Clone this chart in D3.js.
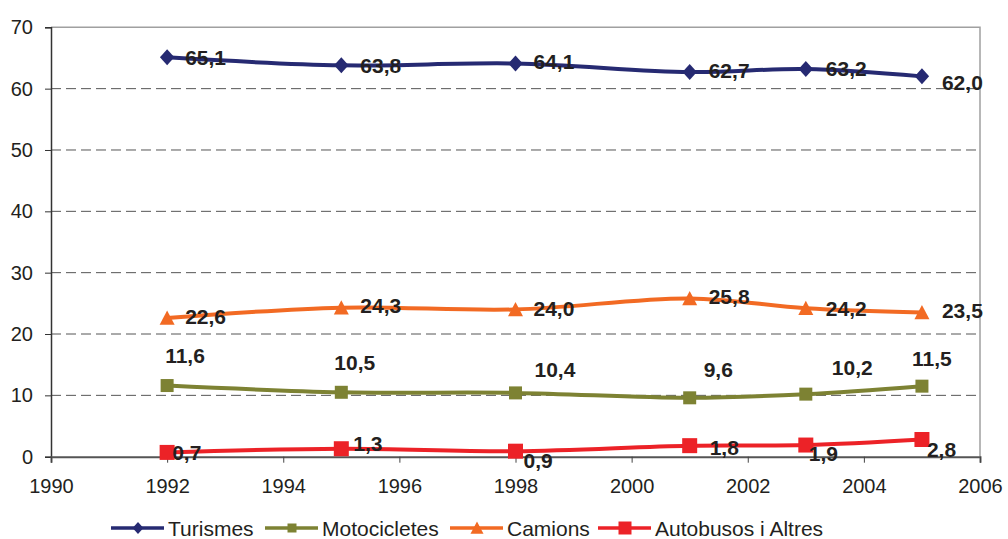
<!DOCTYPE html>
<html>
<head>
<meta charset="utf-8">
<script src="https://cdn.jsdelivr.net/npm/d3@7"></script>
<style>
  html, body { margin: 0; padding: 0; background: #fff; }
  svg { display: block; }
  text { font-family: "Liberation Sans", Arial, Helvetica, sans-serif; fill: #231f20; }
</style>
</head>
<body>
<svg id="chart" width="1008" height="539"></svg>
<script>
// ---- Data ----
const years = [1992, 1995, 1998, 2001, 2003, 2005];
const turismes = [65.1, 63.8, 64.1, 62.7, 63.2, 62.0];
const motocicletes = [11.6, 10.5, 10.4, 9.6, 10.2, 11.5];
const camions = [22.6, 24.3, 24.0, 25.8, 24.2, 23.5];
const autobusos = [0.7, 1.3, 0.9, 1.8, 1.9, 2.8];
const seriesNames = ["Turismes", "Motocicletes", "Camions", "Autobusos i Altres"];
const xTicks = [1990, 1992, 1994, 1996, 1998, 2000, 2002, 2004, 2006];
const yTicks = [0, 10, 20, 30, 40, 50, 60, 70];

// ---- Label placement nudges (dx, dy in px from marker) ----
const labelNudge = [
  [[18, 0], [19, 0], [18, -2], [19, -2], [20, -1], [20, 6]],
  [[-2, -30], [-7, -30], [19, -23], [14, -28], [26, -27], [-10, -28]],
  [[18, -2], [19, -2], [18, -1], [19, -2], [20, 0], [20, -2]],
  [[5, 0], [12, -5], [8, 9], [20, 2], [3, 8], [5, 10]]
];

const colors = ["#262a72", "#7d8233", "#f26a23", "#ec2227"];
const shapes = ["diamond", "square", "triangle", "square"];
const markerSize = [16, 13, 15, 15];
const legendMarkerSize = [12, 9, 13, 13];

const svg = d3.select("#chart");
const x = d3.scaleLinear().domain([1990, 2006]).range([51, 980]);
const y = d3.scaleLinear().domain([0, 70]).range([456.7, 27.3]);

// plot frame (top & right light gray)
svg.append("path")
  .attr("d", `M${x(1990)},${y(70)}H${x(2006)}V${y(0)}`)
  .attr("fill", "none").attr("stroke", "#a0a0a0").attr("stroke-width", 1.5);

// gridlines
svg.append("g").selectAll("line")
  .data(yTicks.filter(d => d > 0 && d < 70))
  .join("line")
  .attr("x1", x(1990)).attr("x2", x(2006))
  .attr("y1", d => y(d)).attr("y2", d => y(d))
  .attr("stroke", "#555").attr("stroke-width", 1)
  .attr("stroke-dasharray", "10,5");

// axes
const yAxis = svg.append("g").attr("transform", `translate(${x(1990)},0)`)
  .call(d3.axisLeft(y).tickValues(yTicks).tickSize(6).tickPadding(12).tickFormat(d3.format("d")));
yAxis.select(".domain").attr("stroke", "#333").attr("stroke-width", 1.5);
yAxis.selectAll(".tick line").attr("stroke", "#333");
yAxis.selectAll("text").style("font-size", "20px").style("font-family", "'Liberation Sans', Arial, sans-serif").attr("fill", "#231f20");

const xAxis = svg.append("g").attr("transform", `translate(0,${y(0)})`)
  .call(d3.axisBottom(x).tickValues(xTicks).tickSize(6).tickPadding(16).tickFormat(d3.format("d")));
xAxis.select(".domain").attr("stroke", "#555").attr("stroke-width", 2);
xAxis.selectAll(".tick line").attr("stroke", "#444");
xAxis.selectAll("text").style("font-size", "20px").style("font-family", "'Liberation Sans', Arial, sans-serif").attr("fill", "#231f20");

const allSeries = [turismes, motocicletes, camions, autobusos];

function markerPath(shape, s) {
  const h = s / 2;
  if (shape === "diamond") return `M0,${-h}L${h * 0.9},0L0,${h}L${-h * 0.9},0Z`;
  if (shape === "triangle") return `M0,${-h}L${h},${h * 0.9}L${-h},${h * 0.9}Z`;
  return `M${-h},${-h}H${h}V${h}H${-h}Z`;
}

const line = d3.line().x(d => x(d[0])).y(d => y(d[1])).curve(d3.curveCatmullRom.alpha(0.5));

const fmt = v => d3.format(".1f")(v).replace(".", ",");

allSeries.forEach((vals, i) => {
  const pts = years.map((yr, j) => [yr, vals[j]]);
  const g = svg.append("g");
  g.append("path").datum(pts).attr("d", line)
    .attr("fill", "none").attr("stroke", colors[i]).attr("stroke-width", 4)
    .attr("stroke-linejoin", "round").attr("stroke-linecap", "round");
  g.selectAll("path.m").data(pts).join("path").attr("class", "m")
    .attr("transform", d => `translate(${x(d[0])},${y(d[1])})`)
    .attr("d", markerPath(shapes[i], markerSize[i]))
    .attr("fill", colors[i]);
});

// data labels
allSeries.forEach((vals, i) => {
  svg.append("g").selectAll("text").data(vals).join("text")
    .attr("x", (d, j) => x(years[j]) + labelNudge[i][j][0])
    .attr("y", (d, j) => y(d) + labelNudge[i][j][1])
    .attr("dy", "0.36em")
    .style("font-size", "21px").style("font-weight", "bold")
    .text(d => fmt(d));
});

// legend
const legendX = [111, 265, 450, 598];
const legendY = 528;
seriesNames.forEach((name, i) => {
  const g = svg.append("g").attr("transform", `translate(${legendX[i]},${legendY})`);
  g.append("line").attr("x1", 0).attr("x2", 53).attr("y1", 0).attr("y2", 0)
    .attr("stroke", colors[i]).attr("stroke-width", 3.5);
  g.append("path").attr("transform", "translate(27,0)")
    .attr("d", markerPath(shapes[i], legendMarkerSize[i])).attr("fill", colors[i]);
  g.append("text").attr("x", 57).attr("y", 0).attr("dy", "0.36em")
    .style("font-size", "21px").text(name);
});
</script>
</body>
</html>
